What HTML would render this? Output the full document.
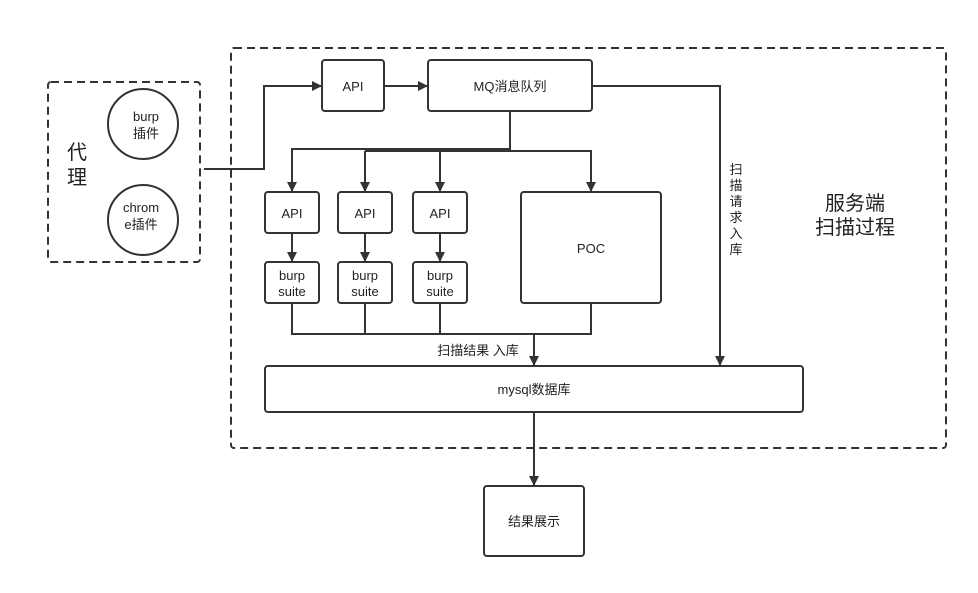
<!DOCTYPE html>
<html><head><meta charset="utf-8"><style>
html,body{margin:0;padding:0;background:#fff}
text{font-family:"Liberation Sans","Noto Sans CJK SC",sans-serif;fill:#222}
</style></head><body>
<svg width="978" height="588" viewBox="0 0 978 588" xmlns="http://www.w3.org/2000/svg">
<defs><marker id="a" markerWidth="10" markerHeight="10" refX="9" refY="5" orient="auto" markerUnits="userSpaceOnUse"><path d="M0,0 L10,5 L0,10 z" fill="#333"/></marker></defs>
<g fill="none" stroke="#333" stroke-width="2">
<rect x="48" y="82" width="152" height="180" rx="3" stroke-dasharray="8,5"/>
<rect x="231" y="48" width="715" height="400" rx="3" stroke-dasharray="8,5"/>
<circle cx="143" cy="124" r="35"/>
<circle cx="143" cy="220" r="35"/>
<rect x="322" y="60" width="62" height="51" rx="3"/>
<rect x="428" y="60" width="164" height="51" rx="3"/>
<rect x="265" y="192" width="54" height="41" rx="3"/>
<rect x="338" y="192" width="54" height="41" rx="3"/>
<rect x="413" y="192" width="54" height="41" rx="3"/>
<rect x="265" y="262" width="54" height="41" rx="3"/>
<rect x="338" y="262" width="54" height="41" rx="3"/>
<rect x="413" y="262" width="54" height="41" rx="3"/>
<rect x="521" y="192" width="140" height="111" rx="3"/>
<rect x="265" y="366" width="538" height="46" rx="3"/>
<rect x="484" y="486" width="100" height="70" rx="3"/>
<path d="M204,169 H264 V86 H321" marker-end="url(#a)"/>
<path d="M384,86 H427" marker-end="url(#a)"/>
<path d="M592,86 H720 V365" marker-end="url(#a)"/>
<path d="M510,111 V150"/>
<path d="M510,149 H292 V191" marker-end="url(#a)"/>
<path d="M365,151 H591 V191" marker-end="url(#a)"/>
<path d="M365,151 V191" marker-end="url(#a)"/>
<path d="M440,151 V191" marker-end="url(#a)"/>
<path d="M292,233 V261" marker-end="url(#a)"/>
<path d="M365,233 V261" marker-end="url(#a)"/>
<path d="M440,233 V261" marker-end="url(#a)"/>
<path d="M292,303 V334 H591 V303"/>
<path d="M365,303 V334 M440,303 V334"/>
<path d="M534,334 V365" marker-end="url(#a)"/>
<path d="M534,412 V485" marker-end="url(#a)"/>
</g>
<g font-size="13" text-anchor="middle">
<text x="146" y="121">burp</text><text x="146" y="138">插件</text>
<text x="141" y="212">chrom</text><text x="141" y="229">e插件</text>
<text x="353" y="91">API</text>
<text x="510" y="91">MQ消息队列</text>
<text x="292" y="218">API</text><text x="365" y="218">API</text><text x="440" y="218">API</text>
<text x="292" y="280">burp</text><text x="292" y="296">suite</text>
<text x="365" y="280">burp</text><text x="365" y="296">suite</text>
<text x="440" y="280">burp</text><text x="440" y="296">suite</text>
<text x="591" y="253">POC</text>
<text x="534" y="394">mysql数据库</text>
<text x="534" y="526">结果展示</text>
<text x="478" y="355">扫描结果 入库</text>
<text x="736" y="174">扫</text><text x="736" y="190">描</text><text x="736" y="206">请</text><text x="736" y="222">求</text><text x="736" y="238">入</text><text x="736" y="254">库</text>
</g>
<g font-size="20" text-anchor="middle">
<text x="77" y="159">代</text><text x="77" y="184">理</text>
<text x="855" y="210">服务端</text><text x="855" y="234">扫描过程</text>
</g>
</svg>
</body></html>
